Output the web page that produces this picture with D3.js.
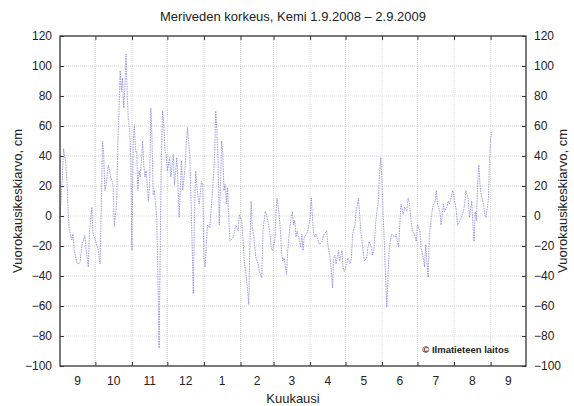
<!DOCTYPE html>
<html>
<head>
<meta charset="utf-8">
<script src="https://cdn.jsdelivr.net/npm/d3@7/dist/d3.min.js"></script>
<style>
  html, body { margin: 0; padding: 0; background: #fff; }
  svg { display: block; }
  text { font-family: "Liberation Sans", Arial, Helvetica, sans-serif; fill: #222; }
</style>
</head>
<body>
<svg id="chart" width="574" height="406"></svg>
<script>
// ---- data ----
const titleText = "Meriveden korkeus, Kemi 1.9.2008 \u2013 2.9.2009";
const yLabelText = "Vuorokausikeskiarvo, cm";
const xLabelText = "Kuukausi";
const creditText = "\u00A9 Ilmatieteen laitos";
const monthLabels = ["9","10","11","12","1","2","3","4","5","6","7","8","9"];
const yTicks = [-100,-80,-60,-40,-20,0,20,40,60,80,100,120];
// day offset from 1.9.2008
const days = [
  0,2,3,5,6,7,8,10,11,12,14,15,17,18,19,21,22,24,25,27,28,29,31,32,34,35,36,37,38,39,
  41,42,43,45,46,48,49,50,51,52,53,54,55,56,57,58,59,60,61,62,63,64,65,66,67,68,69,70,71,72,
  73,75,76,77,78,79,80,82,83,84,85,86,87,88,89,90,91,93,94,96,97,99,100,101,103,104,106,107,108,110,
  111,112,113,114,115,117,118,120,121,122,123,124,125,127,128,130,131,
  132,133,134,135,136,137,138,139,140,141,142,144,145,147,148,149,151,152,153,154,155,156,158,159,160,161,162,
  163,164,165,166,168,169,171,172,174,175,176,178,179,180,182,183,184,186,187,188,189,190,192,193,195,196,197,
  198,199,200,201,203,204,205,206,207,209,210,212,213,214,215,216,217,219,220,222,223,224,226,227,229,230,231,
  232,233,234,236,237,239,240,241,243,244,246,247,248,250,251,253,254,255,257,258,260,261,262,
  264,265,266,267,268,270,271,272,273,274,275,276,277,278,279,280,281,282,284,285,287,288,289,291,292,294,295,
  296,298,299,301,302,303,305,306,308,309,310,311,312,313,315,316,318,319,320,322,323,325,326,328,329,330,332,
  333,335,336,337,339,340,342,343,344,346,347,349,350,351,352,353,354,355,356,357,359,360,361,363,364,365,366
];
// daily mean sea level, cm
const levels = [
  -1,25,45,34,21,1,-9,-16,-12,-23,-30,-32,-31,-23,-18,-13,-21,-34,-10,6,-12,-14,-19,-21,-32,6,50,41,17,21,
  34,30,26,21,-7,8,48,70,97,83,92,72,86,108,81,63,59,37,-23,48,61,43,43,17,30,26,37,50,34,26,
  30,10,21,72,52,14,17,-1,-41,-88,-19,43,70,61,43,41,30,39,26,41,21,39,21,-1,37,17,32,48,59,41,
  12,-19,-52,3,30,12,8,23,21,-28,-34,-19,-6,-8,3,25,40,
  70,57,37,-6,19,50,41,17,21,8,19,-17,-16,-14,-10,-6,-10,1,-1,-3,-14,-28,-41,-50,-59,-19,10,
  -8,-12,-19,-28,-32,-37,-41,-10,3,1,-3,-12,-21,-23,-17,1,12,-1,-12,-26,-30,-28,-39,-23,-6,-1,3,
  -6,-3,-14,-10,-17,-21,-12,-23,-14,-12,-10,-1,12,-1,-12,-14,-12,-17,-19,-17,-14,-12,-10,-19,-28,-37,-48,
  -28,-26,-32,-23,-30,-23,-34,-37,-32,-28,-32,-28,-12,-6,3,12,1,-10,-23,-30,-28,-21,-17,
  -21,-26,-23,-12,-1,12,30,39,21,-1,-19,-41,-61,-41,-23,-17,-12,-13,-14,-12,-21,-6,8,1,6,3,12,
  10,-6,-10,-14,-17,-6,-10,-21,-28,-34,-19,-30,-41,-14,1,6,10,17,8,3,-6,8,3,6,10,8,14,
  17,8,3,-6,-3,-1,3,8,17,12,-1,10,-6,-17,3,-3,21,34,21,14,8,1,-1,10,34,52,56
];

// ---- layout ----
const L = 60, R = 526, T = 36, B = 366;
const svg = d3.select("#chart");

const t0 = new Date(Date.UTC(2008, 8, 1));
const t1 = new Date(Date.UTC(2009, 9, 1));
const x = d3.scaleUtc().domain([t0, t1]).range([L, R]);
const y = d3.scaleLinear().domain([-100, 120]).range([B, T]);

const series = days.map((d, i) => ({ date: d3.utcDay.offset(t0, d), v: levels[i] }));
const monthStarts = d3.utcMonth.range(t0, t1);          // 13 months
const innerBounds = monthStarts.slice(1);                // month boundaries inside the plot

// grid
const grid = svg.append("g").attr("stroke", "#cfcfcf").attr("stroke-width", 0.8)
  .attr("stroke-dasharray", "1,1");
grid.selectAll("line.h").data(yTicks.filter(v => v > -100 && v < 120)).join("line")
  .attr("x1", L).attr("x2", R).attr("y1", d => y(d)).attr("y2", d => y(d));
grid.selectAll("line.v").data(innerBounds).join("line")
  .attr("y1", T).attr("y2", B).attr("x1", d => x(d)).attr("x2", d => x(d));

// axes (ticks inward)
const leftAxis = d3.axisLeft(y).tickValues(yTicks).tickSize(-4).tickPadding(8).tickFormat(d3.format("d"));
const rightAxis = d3.axisRight(y).tickValues(yTicks).tickSize(-4).tickPadding(8).tickFormat(d3.format("d"));
const bottomAxis = d3.axisBottom(x).tickValues(innerBounds).tickSize(-4).tickFormat("");
const topAxis = d3.axisTop(x).tickValues(innerBounds).tickSize(-4).tickFormat("");

function styleAxis(g) {
  g.select(".domain").remove();
  g.selectAll(".tick line").attr("stroke", "#333").attr("stroke-width", 1);
  g.selectAll(".tick text").attr("font-size", 12).attr("fill", "#222")
    .attr("font-family", "'Liberation Sans', Arial, sans-serif");
}
svg.append("g").attr("transform", `translate(${L},0)`).call(leftAxis).call(styleAxis);
svg.append("g").attr("transform", `translate(${R},0)`).call(rightAxis).call(styleAxis);
svg.append("g").attr("transform", `translate(0,${B})`).call(bottomAxis).call(styleAxis);
svg.append("g").attr("transform", `translate(0,${T})`).call(topAxis).call(styleAxis);

// month labels centered in each month
svg.append("g").selectAll("text").data(monthStarts).join("text")
  .attr("x", d => (x(d) + x(d3.utcMonth.offset(d, 1))) / 2)
  .attr("y", B + 19)
  .attr("text-anchor", "middle")
  .attr("font-size", 12)
  .text((d, i) => monthLabels[i]);

// line
const line = d3.line().x(d => x(d.date)).y(d => y(d.v));
svg.append("path").datum(series)
  .attr("d", line)
  .attr("fill", "none")
  .attr("stroke", "#7b7bd8")
  .attr("stroke-width", 0.85)
  .attr("stroke-dasharray", "1.6,0.9")
  .attr("stroke-opacity", 0.85);

// frame
svg.append("rect").attr("x", L).attr("y", T).attr("width", R - L).attr("height", B - T)
  .attr("fill", "none").attr("stroke", "#333").attr("stroke-width", 1.3);

// title and labels
svg.append("text").attr("x", (L + R) / 2).attr("y", 21).attr("text-anchor", "middle")
  .attr("font-size", 13).text(titleText);
svg.append("text").attr("x", (L + R) / 2).attr("y", 403).attr("text-anchor", "middle")
  .attr("font-size", 13).text(xLabelText);
svg.append("text").attr("transform", `translate(22,${(T + B) / 2}) rotate(-90)`)
  .attr("text-anchor", "middle").attr("font-size", 13).text(yLabelText);
svg.append("text").attr("transform", `translate(567,${(T + B) / 2}) rotate(-90)`)
  .attr("text-anchor", "middle").attr("font-size", 13).text(yLabelText);
svg.append("text").attr("x", 509).attr("y", 353).attr("text-anchor", "end")
  .attr("font-size", 9.5).attr("font-weight", "bold").attr("fill", "#333").text(creditText);
</script>
</body>
</html>
